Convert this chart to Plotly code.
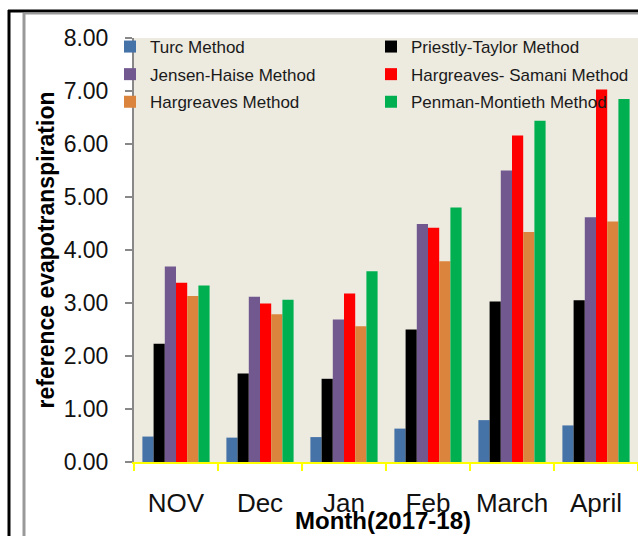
import plotly.graph_objects as go

months = ["NOV", "Dec", "Jan", "Feb", "March", "April"]
turc = [0.48, 0.46, 0.47, 0.63, 0.79, 0.69]
priestly_taylor = [2.23, 1.67, 1.57, 2.50, 3.03, 3.05]
jensen_haise = [3.69, 3.12, 2.69, 4.49, 5.50, 4.62]
hargreaves_samani = [3.38, 2.99, 3.18, 4.42, 6.16, 7.03]
hargreaves = [3.13, 2.79, 2.56, 3.79, 4.34, 4.54]
penman_monteith = [3.33, 3.06, 3.60, 4.80, 6.44, 6.85]
y_ticks = [0, 1, 2, 3, 4, 5, 6, 7, 8]
y_tick_labels = ["0.00", "1.00", "2.00", "3.00", "4.00", "5.00", "6.00", "7.00", "8.00"]

series = [
    ("Turc Method", turc, "#4572A7", "legend"),
    ("Priestly-Taylor Method", priestly_taylor, "#000000", "legend2"),
    ("Jensen-Haise Method", jensen_haise, "#71588F", "legend"),
    ("Hargreaves- Samani Method", hargreaves_samani, "#FF0000", "legend2"),
    ("Hargreaves Method", hargreaves, "#DB843D", "legend"),
    ("Penman-Montieth Method", penman_monteith, "#00B050", "legend2"),
]

fig = go.Figure()
for i, (name, vals, col, lg) in enumerate(series):
    fig.add_trace(go.Bar(
        x=months, y=vals, name=name, legend=lg, legendgroup=name,
        marker=dict(color=col, line=dict(width=0)),
    ))

W, H = 638, 536
L, R, T, B = 134, 0, 38, 74
pw, ph = W - L - R, H - T - B

def px(p):
    return (p - L) / pw

def py(p):
    return (H - B - p) / ph

font = "Liberation Sans, Arial, sans-serif"
legend_common = dict(
    orientation="v", bgcolor="rgba(0,0,0,0)", borderwidth=0,
    font=dict(family=font, size=17, color="#1a1a1a"),
    tracegroupgap=2.5, xanchor="left", yanchor="top", traceorder="grouped",
)

fig.update_layout(
    width=W, height=H,
    margin=dict(l=L, r=R, t=T, b=B, autoexpand=False),
    paper_bgcolor="white",
    plot_bgcolor="#EDEAE0",
    barmode="group", bargap=0.2, bargroupgap=0,
    showlegend=True,
    legend=dict(x=px(110), y=py(29), **legend_common),
    legend2=dict(x=px(371), y=py(29), **legend_common),
    xaxis=dict(
        showgrid=False, showline=True, linecolor="#FFFF00", linewidth=2,
        ticks="outside", tickson="boundaries", tickcolor="#FFFF00", ticklen=7, tickwidth=2,
        tickfont=dict(family=font, size=26, color="#111111"),
        ticklabelstandoff=17, automargin=False,
    ),
    yaxis=dict(
        range=[0, 8], tickvals=y_ticks, ticktext=y_tick_labels,
        showgrid=False, showline=True, linecolor="#888888", linewidth=2,
        ticks="outside", tickcolor="#888888", ticklen=7, tickwidth=2,
        tickfont=dict(family=font, size=23, color="#111111"),
        ticklabelstandoff=12, automargin=False, zeroline=False,
        title=dict(text="<b>reference evapotranspiration</b>", standoff=3,
                   font=dict(family=font, size=23, color="#000000")),
    ),
    annotations=[dict(
        text="<b>Month(2017-18)</b>", xref="paper", yref="paper",
        x=px(383), y=py(520), xanchor="center", yanchor="middle", showarrow=False,
        font=dict(family=font, size=24, color="#000000"),
    )],
    shapes=[
        dict(type="line", xref="paper", yref="paper", x0=px(9), x1=px(9), y0=py(10), y1=py(560),
             line=dict(color="black", width=3), layer="above"),
        dict(type="line", xref="paper", yref="paper", x0=px(8), x1=px(660), y0=py(11), y1=py(11),
             line=dict(color="black", width=3), layer="above"),
        dict(type="line", xref="paper", yref="paper", x0=px(24), x1=px(660), y0=py(13.5), y1=py(13.5),
             line=dict(color="#999999", width=2), layer="above"),
        dict(type="line", xref="paper", yref="paper", x0=px(24), x1=px(24), y0=py(13), y1=py(560),
             line=dict(color="#999999", width=3), layer="above"),
    ],
)

fig.write_html(
    "out.html",
    config={"displayModeBar": False},
    post_script="document.body.style.margin='0';document.body.style.overflow='hidden';",
)
